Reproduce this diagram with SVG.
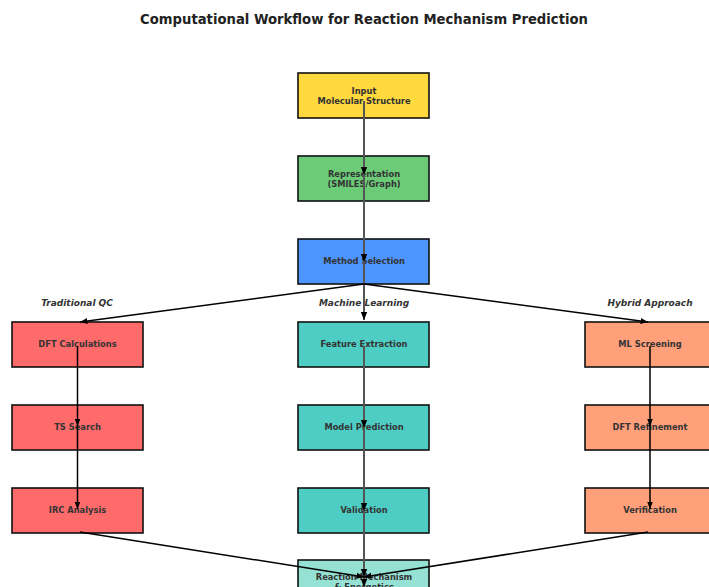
<svg xmlns="http://www.w3.org/2000/svg" width="709" height="587" viewBox="0 0 709 587">
<defs>
<marker id="ah" viewBox="0 0 10 10" refX="10" refY="5" markerWidth="5" markerHeight="5" orient="auto">
<path d="M0,1 L10,5 L0,9 z" fill="#000"/>
</marker>
<marker id="ah2" viewBox="0 0 10 10" refX="10" refY="5" markerWidth="4" markerHeight="4" orient="auto">
<path d="M0,1 L10,5 L0,9 z" fill="#000"/>
</marker>
<style>
.box{stroke:#111;stroke-width:1.6}
.t{font-family:"DejaVu Sans",sans-serif;font-size:8.3px;font-weight:bold;fill:#333;text-anchor:middle}
.lab{font-family:"DejaVu Sans",sans-serif;font-size:9px;font-weight:bold;font-style:italic;fill:#333;text-anchor:middle}
.title{font-family:"DejaVu Sans",sans-serif;font-size:13.2px;font-weight:bold;fill:#222;text-anchor:middle}
.c{stroke:#000;stroke-width:1.5;fill:none;marker-end:url(#ah)}
.m{stroke:#555;stroke-width:2;fill:none;marker-end:url(#ah2)}
</style>
</defs>
<rect width="709" height="587" fill="#fff"/>
<text class="title" x="364" y="24">Computational Workflow for Reaction Mechanism Prediction</text>
<text class="lab" x="77" y="306">Traditional QC</text>
<text class="lab" x="364" y="306">Machine Learning</text>
<text class="lab" x="650" y="306">Hybrid Approach</text>

<g id="input"><rect class="box" x="298" y="73" width="131" height="45" fill="#FFD93D"/><text class="t" x="364" y="94">Input</text><text class="t" x="364" y="103.5">Molecular Structure</text></g>
<g id="representation"><rect class="box" x="298" y="156" width="131" height="45" fill="#6BCB77"/><text class="t" x="364" y="177">Representation</text><text class="t" x="364" y="186.5">(SMILES/Graph)</text></g>
<g id="method"><rect class="box" x="298" y="239" width="131" height="45" fill="#4D96FF"/><text class="t" x="364" y="264">Method Selection</text></g>

<g id="dft"><rect class="box" x="12" y="322" width="131" height="45" fill="#FF6B6B"/><text class="t" x="77.5" y="347">DFT Calculations</text></g>
<g id="ts"><rect class="box" x="12" y="405" width="131" height="45" fill="#FF6B6B"/><text class="t" x="77.5" y="430">TS Search</text></g>
<g id="irc"><rect class="box" x="12" y="488" width="131" height="45" fill="#FF6B6B"/><text class="t" x="77.5" y="513">IRC Analysis</text></g>

<g id="feature"><rect class="box" x="298" y="322" width="131" height="45" fill="#4ECDC4"/><text class="t" x="364" y="347">Feature Extraction</text></g>
<g id="model"><rect class="box" x="298" y="405" width="131" height="45" fill="#4ECDC4"/><text class="t" x="364" y="430">Model Prediction</text></g>
<g id="validation"><rect class="box" x="298" y="488" width="131" height="45" fill="#4ECDC4"/><text class="t" x="364" y="513">Validation</text></g>

<g id="mlscreen"><rect class="box" x="585" y="322" width="131" height="45" fill="#FFA07A"/><text class="t" x="650" y="347">ML Screening</text></g>
<g id="dftref"><rect class="box" x="585" y="405" width="131" height="45" fill="#FFA07A"/><text class="t" x="650" y="430">DFT Refinement</text></g>
<g id="verify"><rect class="box" x="585" y="488" width="131" height="45" fill="#FFA07A"/><text class="t" x="650" y="513">Verification</text></g>

<g id="final"><rect class="box" x="298" y="560" width="131" height="45" fill="#95E1D3"/><text class="t" x="364" y="580">Reaction Mechanism</text><text class="t" x="364" y="590">&amp; Energetics</text></g>

<g id="connectors">
<line class="m" x1="364" y1="101" x2="364" y2="175"/>
<line class="m" x1="364" y1="175" x2="364" y2="262"/>
<line class="m" x1="364" y1="262" x2="364" y2="320"/>
<line class="c" x1="364" y1="284" x2="80" y2="322"/>
<line class="c" x1="364" y1="284" x2="648" y2="322"/>
<line class="m" x1="364" y1="346" x2="364" y2="428"/>
<line class="m" x1="364" y1="428" x2="364" y2="511"/>
<line class="m" x1="364" y1="511" x2="364" y2="577"/>
<line class="m" x1="364" y1="577" x2="364" y2="587"/>
<line class="c" x1="77.5" y1="346" x2="77.5" y2="426"/>
<line class="c" x1="77.5" y1="426" x2="77.5" y2="509"/>
<line class="c" x1="650" y1="346" x2="650" y2="426"/>
<line class="c" x1="650" y1="426" x2="650" y2="509"/>
<line class="c" x1="80" y1="532" x2="364" y2="577"/>
<line class="c" x1="648" y1="532" x2="364" y2="577"/>
</g>
</svg>
